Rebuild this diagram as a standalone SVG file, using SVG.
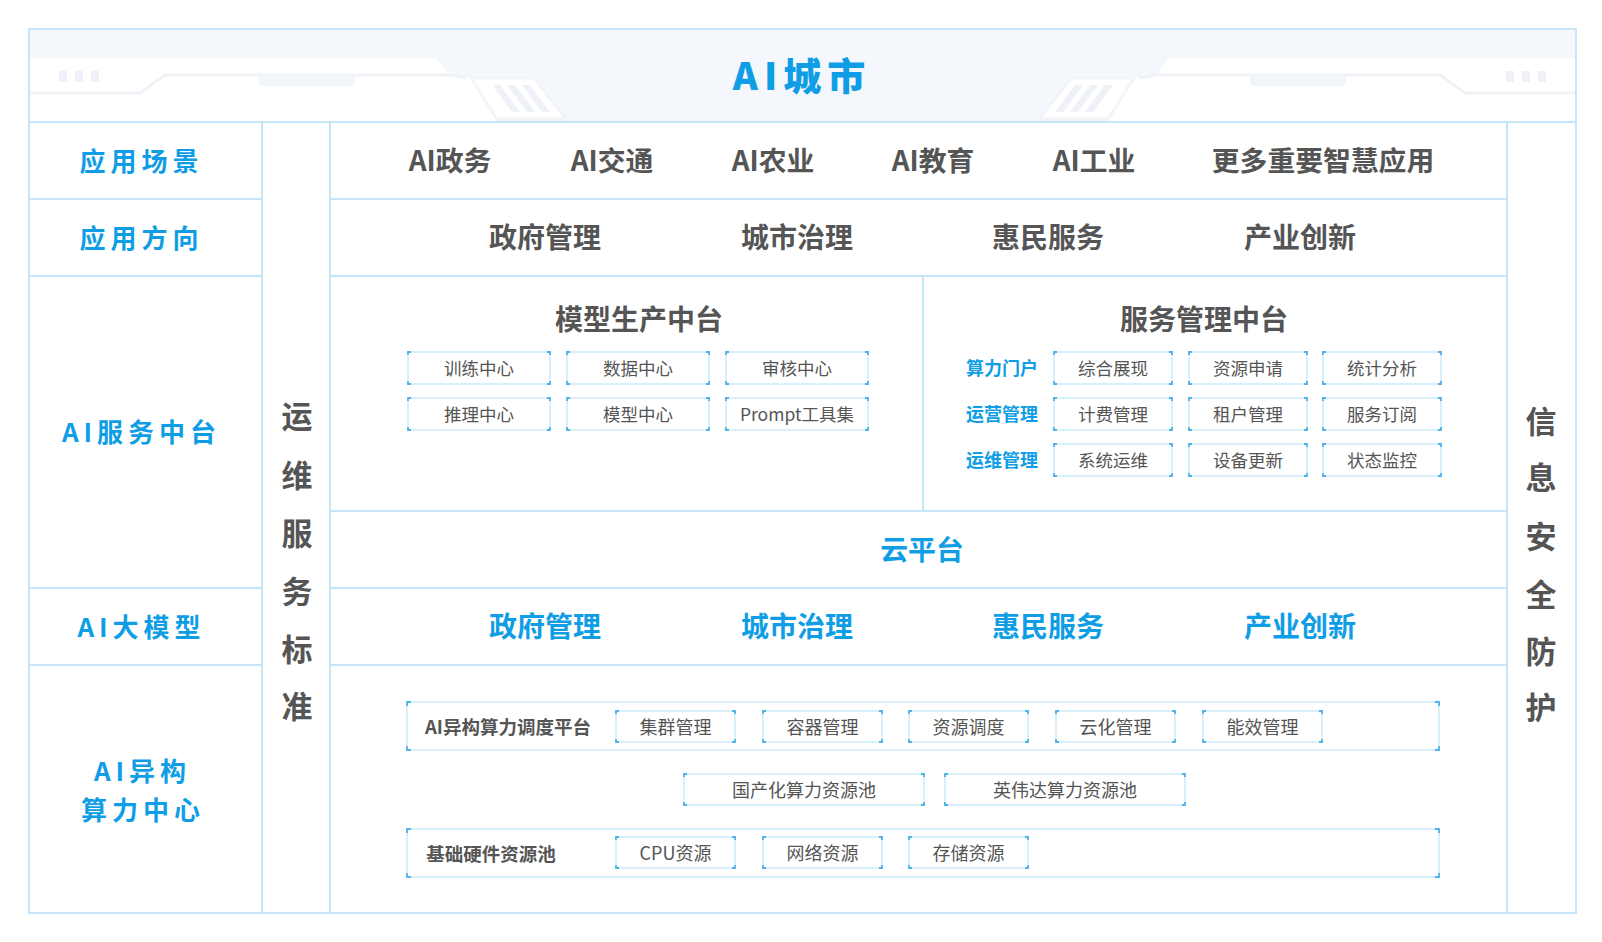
<svg xmlns="http://www.w3.org/2000/svg" width="1602" height="942" viewBox="0 0 1602 942">
<style>
text{font-family:"Noto Sans CJK SC","Noto Sans",sans-serif;text-anchor:middle;dominant-baseline:central}
.ln{stroke:#c4e6f8;stroke-width:2;fill:none}
.blue{fill:#0f9ee6;font-weight:700}
.dark{fill:#555;font-weight:700}
.lab{font-size:26px;letter-spacing:5px}
.r1{font-size:27.8px}
.r2{font-size:28px}
.vt{font-size:31px}
.sub{font-size:28px}
.bt{font-size:17.5px;fill:#555;font-weight:400}
.bm{font-size:18px}
.bl{font-size:18px}
.cl{font-size:18.5px}
.bx{fill:#fff;stroke:#cdeaf9;stroke-width:1.5}
.cn{fill:none;stroke:#4fb2ea;stroke-width:1.8}
.ca{stroke-dasharray:3 136 6 26 6 136 6 26 3}
.cb{stroke-dasharray:3 112 6 26 6 112 6 26 3}
.cc{stroke-dasharray:3 113 6 25 6 113 6 25 3}
.cd{stroke-dasharray:3 234 6 25 6 234 6 25 3}
.ce{stroke-dasharray:4 1024 8 40 8 1024 8 40 4}
.deco{fill:#eef2f8}
</style>
<rect width="1602" height="942" fill="#fff"/>
<g id="header">
<rect x="29" y="29" width="1547" height="93" fill="#f4f7fb"/>
<g id="deco-left">
<polygon points="29,58 436,58 449,76 470,77 497,121 29,121" fill="#fff"/>
<polyline points="29,93 140,93 165,75 449,75 466,78" fill="none" stroke="#eff3f8" stroke-width="3"/>
<path d="M259,75 H355 V82 Q355,86 351,86 H263 Q259,86 259,82 Z" fill="#f2f5fa"/>
<rect x="59" y="71" width="8" height="11" class="deco"/>
<rect x="75" y="71" width="8" height="11" class="deco"/>
<rect x="91" y="71" width="8" height="11" class="deco"/>
<polygon points="471,78 534,78 566,119 497,119" fill="#fff" stroke="#f1f4f9" stroke-width="3"/>
<polygon points="492,85 500,85 520,112 512,112" class="deco"/>
<polygon points="507,85 515,85 535,112 527,112" class="deco"/>
<polygon points="522,85 530,85 550,112 542,112" class="deco"/>
</g>
<g id="deco-right" transform="translate(1605,0) scale(-1,1)">
<polygon points="29,58 436,58 449,76 470,77 497,121 29,121" fill="#fff"/>
<polyline points="29,93 140,93 165,75 449,75 466,78" fill="none" stroke="#eff3f8" stroke-width="3"/>
<path d="M259,75 H355 V82 Q355,86 351,86 H263 Q259,86 259,82 Z" fill="#f2f5fa"/>
<rect x="59" y="71" width="8" height="11" class="deco"/>
<rect x="75" y="71" width="8" height="11" class="deco"/>
<rect x="91" y="71" width="8" height="11" class="deco"/>
<polygon points="471,78 534,78 566,119 497,119" fill="#fff" stroke="#f1f4f9" stroke-width="3"/>
<polygon points="492,85 500,85 520,112 512,112" class="deco"/>
<polygon points="507,85 515,85 535,112 527,112" class="deco"/>
<polygon points="522,85 530,85 550,112 542,112" class="deco"/>
</g>
<text x="802" y="73" class="blue" style="font-size:38px;letter-spacing:6px;font-weight:900">AI城市</text>
</g>
<g id="grid">
<rect x="29" y="29" width="1547" height="884" class="ln"/>
<line x1="29" y1="122" x2="1576" y2="122" class="ln"/>
<line x1="262" y1="122" x2="262" y2="913" class="ln"/>
<line x1="330" y1="122" x2="330" y2="913" class="ln"/>
<line x1="1507" y1="122" x2="1507" y2="913" class="ln"/>
<line x1="29" y1="199" x2="262" y2="199" class="ln"/>
<line x1="330" y1="199" x2="1507" y2="199" class="ln"/>
<line x1="29" y1="276" x2="262" y2="276" class="ln"/>
<line x1="330" y1="276" x2="1507" y2="276" class="ln"/>
<line x1="330" y1="511" x2="1507" y2="511" class="ln"/>
<line x1="29" y1="588" x2="262" y2="588" class="ln"/>
<line x1="330" y1="588" x2="1507" y2="588" class="ln"/>
<line x1="29" y1="665" x2="262" y2="665" class="ln"/>
<line x1="330" y1="665" x2="1507" y2="665" class="ln"/>
<line x1="923" y1="276" x2="923" y2="511" class="ln"/>
</g>
<g id="left-labels">
<text x="141.5" y="159" class="blue lab">应用场景</text>
<text x="141.5" y="236" class="blue lab">应用方向</text>
<text x="141.5" y="430" class="blue lab">AI服务中台</text>
<text x="141.5" y="625" class="blue lab">AI大模型</text>
<text x="142.5" y="769" class="blue lab">AI异构</text>
<text x="143" y="808" class="blue lab">算力中心</text>
</g>
<g id="ops-standard">
<text x="297" y="414" class="dark vt">运</text>
<text x="297" y="473" class="dark vt">维</text>
<text x="297" y="531" class="dark vt">服</text>
<text x="297" y="589" class="dark vt">务</text>
<text x="297" y="647" class="dark vt">标</text>
<text x="297" y="704" class="dark vt">准</text>
</g>
<g id="security">
<text x="1541" y="419" class="dark vt">信</text>
<text x="1541" y="475" class="dark vt">息</text>
<text x="1541" y="534" class="dark vt">安</text>
<text x="1541" y="592" class="dark vt">全</text>
<text x="1541" y="649" class="dark vt">防</text>
<text x="1541" y="705" class="dark vt">护</text>
</g>
<g id="scenes">
<text x="450" y="159" class="dark r1">AI政务</text>
<text x="612" y="159" class="dark r1">AI交通</text>
<text x="773" y="159" class="dark r1">AI农业</text>
<text x="933" y="159" class="dark r1">AI教育</text>
<text x="1094" y="159" class="dark r1">AI工业</text>
<text x="1323" y="159" class="dark r1">更多重要智慧应用</text>
</g>
<g id="directions">
<text x="545" y="236" class="dark r2">政府管理</text>
<text x="797" y="236" class="dark r2">城市治理</text>
<text x="1048" y="236" class="dark r2">惠民服务</text>
<text x="1300" y="236" class="dark r2">产业创新</text>
</g>
<g id="model-production">
<text x="639" y="318" class="dark sub">模型生产中台</text>
<g id="mp-boxes">
<rect x="408" y="352" width="142" height="32" class="bx"/><rect x="408" y="352" width="142" height="32" class="cn ca"/><text x="479" y="367" class="bt">训练中心</text>
<rect x="567" y="352" width="142" height="32" class="bx"/><rect x="567" y="352" width="142" height="32" class="cn ca"/><text x="638" y="367" class="bt">数据中心</text>
<rect x="726" y="352" width="142" height="32" class="bx"/><rect x="726" y="352" width="142" height="32" class="cn ca"/><text x="797" y="367" class="bt">审核中心</text>
<rect x="408" y="398" width="142" height="32" class="bx"/><rect x="408" y="398" width="142" height="32" class="cn ca"/><text x="479" y="413" class="bt">推理中心</text>
<rect x="567" y="398" width="142" height="32" class="bx"/><rect x="567" y="398" width="142" height="32" class="cn ca"/><text x="638" y="413" class="bt">模型中心</text>
<rect x="726" y="398" width="142" height="32" class="bx"/><rect x="726" y="398" width="142" height="32" class="cn ca"/><text x="797" y="413" class="bt">Prompt工具集</text>
</g>
</g>
<g id="service-management">
<text x="1204" y="318" class="dark sub">服务管理中台</text>
<text x="1002" y="367" class="blue bl">算力门户</text>
<text x="1002" y="413" class="blue bl">运营管理</text>
<text x="1002" y="459" class="blue bl">运维管理</text>
<g id="sm-boxes">
<rect x="1054" y="352" width="118" height="32" class="bx"/><rect x="1054" y="352" width="118" height="32" class="cn cb"/><text x="1113" y="367" class="bt">综合展现</text>
<rect x="1189" y="352" width="118" height="32" class="bx"/><rect x="1189" y="352" width="118" height="32" class="cn cb"/><text x="1248" y="367" class="bt">资源申请</text>
<rect x="1323" y="352" width="118" height="32" class="bx"/><rect x="1323" y="352" width="118" height="32" class="cn cb"/><text x="1382" y="367" class="bt">统计分析</text>
<rect x="1054" y="398" width="118" height="32" class="bx"/><rect x="1054" y="398" width="118" height="32" class="cn cb"/><text x="1113" y="413" class="bt">计费管理</text>
<rect x="1189" y="398" width="118" height="32" class="bx"/><rect x="1189" y="398" width="118" height="32" class="cn cb"/><text x="1248" y="413" class="bt">租户管理</text>
<rect x="1323" y="398" width="118" height="32" class="bx"/><rect x="1323" y="398" width="118" height="32" class="cn cb"/><text x="1382" y="413" class="bt">服务订阅</text>
<rect x="1054" y="444" width="118" height="32" class="bx"/><rect x="1054" y="444" width="118" height="32" class="cn cb"/><text x="1113" y="459" class="bt">系统运维</text>
<rect x="1189" y="444" width="118" height="32" class="bx"/><rect x="1189" y="444" width="118" height="32" class="cn cb"/><text x="1248" y="459" class="bt">设备更新</text>
<rect x="1323" y="444" width="118" height="32" class="bx"/><rect x="1323" y="444" width="118" height="32" class="cn cb"/><text x="1382" y="459" class="bt">状态监控</text>
</g>
</g>
<g id="cloud">
<text x="922" y="548" class="blue r1">云平台</text>
</g>
<g id="large-model">
<text x="545" y="625" class="blue r2">政府管理</text>
<text x="797" y="625" class="blue r2">城市治理</text>
<text x="1048" y="625" class="blue r2">惠民服务</text>
<text x="1300" y="625" class="blue r2">产业创新</text>
</g>
<g id="scheduling-platform">
<rect x="407" y="702" width="1032" height="48" class="bx"/><rect x="407" y="702" width="1032" height="48" class="cn ce"/>
<text x="508" y="726" class="dark cl">AI异构算力调度平台</text>
<rect x="616" y="711" width="119" height="31" class="bx"/><rect x="616" y="711" width="119" height="31" class="cn cc"/><text x="675.5" y="726" class="bt bm">集群管理</text>
<rect x="763" y="711" width="119" height="31" class="bx"/><rect x="763" y="711" width="119" height="31" class="cn cc"/><text x="822.5" y="726" class="bt bm">容器管理</text>
<rect x="909" y="711" width="119" height="31" class="bx"/><rect x="909" y="711" width="119" height="31" class="cn cc"/><text x="968.5" y="726" class="bt bm">资源调度</text>
<rect x="1056" y="711" width="119" height="31" class="bx"/><rect x="1056" y="711" width="119" height="31" class="cn cc"/><text x="1115.5" y="726" class="bt bm">云化管理</text>
<rect x="1203" y="711" width="119" height="31" class="bx"/><rect x="1203" y="711" width="119" height="31" class="cn cc"/><text x="1262.5" y="726" class="bt bm">能效管理</text>
</g>
<g id="resource-pools">
<rect x="684" y="774" width="240" height="31" class="bx"/><rect x="684" y="774" width="240" height="31" class="cn cd"/><text x="804" y="789" class="bt bm">国产化算力资源池</text>
<rect x="945" y="774" width="240" height="31" class="bx"/><rect x="945" y="774" width="240" height="31" class="cn cd"/><text x="1065" y="789" class="bt bm">英伟达算力资源池</text>
</g>
<g id="hardware-pool">
<rect x="407" y="829" width="1032" height="48" class="bx"/><rect x="407" y="829" width="1032" height="48" class="cn ce"/>
<text x="491" y="853" class="dark cl">基础硬件资源池</text>
<rect x="616" y="837" width="119" height="31" class="bx"/><rect x="616" y="837" width="119" height="31" class="cn cc"/><text x="675.5" y="852" class="bt bm">CPU资源</text>
<rect x="763" y="837" width="119" height="31" class="bx"/><rect x="763" y="837" width="119" height="31" class="cn cc"/><text x="822.5" y="852" class="bt bm">网络资源</text>
<rect x="909" y="837" width="119" height="31" class="bx"/><rect x="909" y="837" width="119" height="31" class="cn cc"/><text x="968.5" y="852" class="bt bm">存储资源</text>
</g>
</svg>
